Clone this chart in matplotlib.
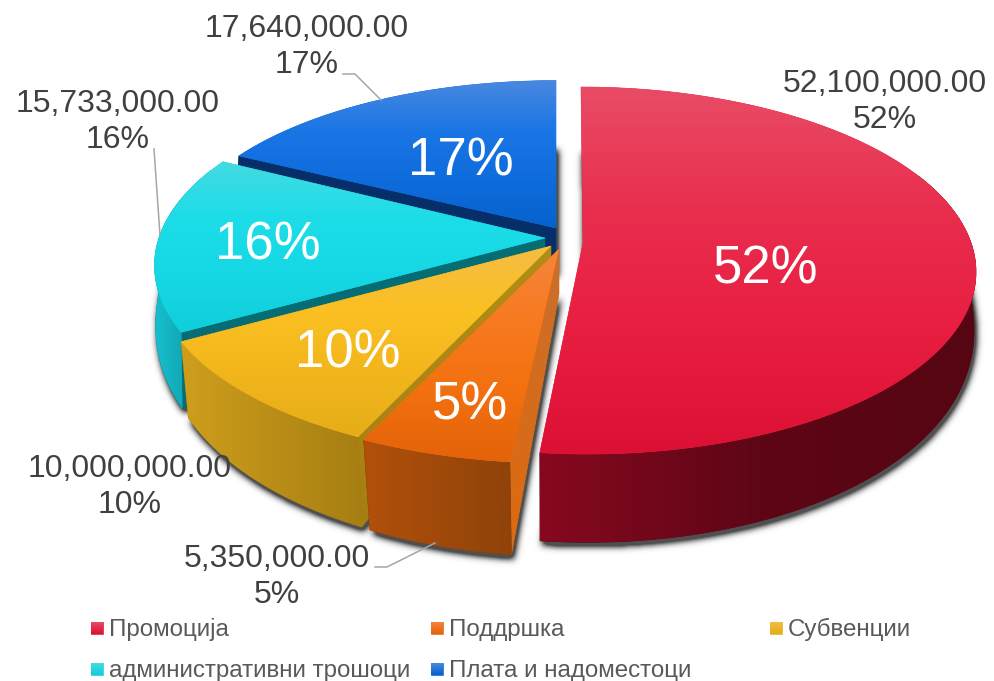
import numpy as np
import matplotlib
matplotlib.use("Agg")
import matplotlib.pyplot as plt
from matplotlib.colors import LinearSegmentedColormap, to_rgb
from matplotlib.patches import Polygon
from matplotlib.path import Path

plt.rcParams['font.family'] = ['Liberation Sans', 'DejaVu Sans']

# ---- data ----
categories = ["Промоција", "Поддршка", "Субвенции", "административни трошоци", "Плата и надоместоци"]
values = [52100000.0, 5350000.0, 10000000.0, 15733000.0, 17640000.0]

# ---- styles ----
top_cols = [
    ["#e84c66", "#e92e4e", "#e81e41", "#dc1034"],
    ["#f5853c", "#f87a20", "#f2700f", "#e4630a"],
    ["#f4bd44", "#fbc022", "#f2b61c", "#e6ad18"],
    ["#45dae2", "#1cdde8", "#16d8e4", "#10cedb"],
    ["#4a88e0", "#1b76e5", "#0f6cdc", "#0562cd"],
]
wall_cols = [
    ["#86091f", "#5e0616", "#560512"],
    ["#b2500a", "#8f430a"],
    ["#cf9e1c", "#a67e12"],
    ["#16bfce", "#0d8f9c"],
    ["#0c3a78", "#0c3a78"],
]
band_cols = [None, ["#c96f2c", "#e06a0e"], ["#b08f16", "#a67e12"], ["#066d74", "#066d74"], ["#062f6a", "#062f6a"]]
apexes = [(583, 243), (559, 249), (551, 246), (545, 238), (556, 228)]
x_scale = [0.997, 1.025, 1.012, 0.995, 0.98]
y_scale = [1.0, 1.015, 1.015, 1.0, 0.945]
depth_scale = [0.95, 1.0, 1.0, 1.0, 1.0]
skew = [1.0, 0.0, 0.0, 0.0, 0.0]
R, Rb, H, P = 388.0, 385.0, 179.4, 0.15

W, Hh = 995, 681
fig = plt.figure(figsize=(W / 100, Hh / 100), dpi=100)
ax = fig.add_axes([0, 0, 1, 1])
ax.set_axis_off()


def depth(c):
    c = np.asarray(c, dtype=float)
    return np.where(c < 0, 45 + 48 * np.abs(c) ** 0.6, 45 + 20 * c)


def top_rim(i, t):
    a = apexes[i]
    c = np.cos(t)
    s = 1 / (1 + P * c)
    return (a[0] + R * x_scale[i] * np.sin(t) * s + skew[i] * (1.25 - 3.25 * c),
            a[1] - H * y_scale[i] * c * s)


def bottom_rim(i, t):
    a = apexes[i]
    c = np.cos(t)
    s = 1 / (1 + P * c)
    return (a[0] + Rb * np.sin(t) * s + skew[i] * (1.25 - 3.25 * c),
            a[1] - H * y_scale[i] * c * s + depth_scale[i] * depth(c))


def gradient(poly, cols, vertical, z):
    poly = np.asarray(poly)
    x0, y0 = poly.min(axis=0)
    x1, y1 = poly.max(axis=0)
    cmap = LinearSegmentedColormap.from_list("g", cols)
    patch = Polygon(poly, closed=True, facecolor=cols[len(cols) // 2], edgecolor=cols[len(cols) // 2],
                    linewidth=0.4, zorder=z)
    ax.add_patch(patch)
    arr = np.linspace(0, 1, 256)
    arr = arr[:, None] if vertical else arr[None, :]
    im = ax.imshow(arr, cmap=cmap, extent=(x0, x1, y1, y0), origin="upper", aspect="auto",
                   interpolation="bilinear", zorder=z + 0.01)
    im.set_clip_path(patch)


total = sum(values)
edges = np.concatenate([[0], np.cumsum(values)]) / total * 2 * np.pi

# shadow
yy, xx = np.mgrid[0:Hh, 0:W]
pts = np.column_stack([xx.ravel() + 0.5, yy.ravel() + 0.5])
mask = np.zeros((Hh, W))
for i, a in enumerate(apexes):
    t = np.linspace(edges[i], edges[i + 1], 120)
    bx, by = bottom_rim(i, t)
    poly = np.vstack([[a[0], a[1] + 45], np.column_stack([bx, by])]) + np.array([2.0, 4.0])
    mask = np.maximum(mask, Path(poly).contains_points(pts).reshape(Hh, W).astype(float))
sig = 3.5
fy = np.fft.fftfreq(Hh)[:, None]
fx = np.fft.rfftfreq(W)[None, :]
blur = np.fft.irfft2(np.fft.rfft2(mask) * np.exp(-2 * (np.pi * sig) ** 2 * (fx ** 2 + fy ** 2)), s=mask.shape)
rgba = np.zeros((Hh, W, 4))
rgba[..., :3] = to_rgb("#303030")
rgba[..., 3] = np.clip(blur * 1.6, 0, 0.85)
ax.imshow(rgba, extent=(0, W, Hh, 0), origin="upper", aspect="auto", zorder=1)

# slices: painter's order from back to front
order = [4, 3, 2, 1, 0]
for n, i in enumerate(order):
    a = apexes[i]
    z = 2 + n
    t = np.linspace(edges[i], edges[i + 1], 160)
    tx, ty = top_rim(i, t)
    bx, by = bottom_rim(i, t)
    if band_cols[i] is not None:
        rx, ry = top_rim(i, edges[i])
        qx, qy = bottom_rim(i, edges[i])
        gradient([(a[0], a[1]), (rx, ry), (qx, qy), (a[0], a[1] + 45)], band_cols[i], True, z)
    # the outer wall only shows where the rim turns towards the viewer
    front = np.cos(t) < 0.4
    wall = np.vstack([np.column_stack([tx[front], ty[front]]), np.column_stack([bx[front], by[front]])[::-1]])
    if len(wall) > 2:
        gradient(wall, wall_cols[i], False, z + 0.2)
    topp = np.vstack([[a[0], a[1]], np.column_stack([tx, ty])])
    gradient(topp, top_cols[i], True, z + 0.4)

# inner percent labels
inner_pos = [(766, 269), (470, 405), (348, 353), (268, 246), (461, 162)]
pct = [f"{round(v / total * 100)}%" for v in values]
for p, s in zip(inner_pos, pct):
    ax.text(p[0], p[1], s, color="white", fontsize=38, ha="center", va="center", zorder=20)

# outer labels
outer_pos = [(885, 102), (277, 577), (130, 487), (118, 122), (307, 47)]
for p, v, s in zip(outer_pos, values, pct):
    ax.text(p[0], p[1], f"{v:,.2f}\n{s}", color="#404040", fontsize=23.0, ha="center", va="center",
            linespacing=1.24, zorder=20)

# leader lines
leaders = [
    [(375, 567), (387, 567), (435, 543)],
    [(154, 149), (160, 235)],
    [(343, 74), (355, 74), (381, 100)],
]
for l in leaders:
    xs, ys = zip(*l)
    ax.plot(xs, ys, color="#a6a6a6", lw=1.1, zorder=15)

# legend
leg_pos = [(91, 628), (431, 628), (770, 628), (91, 669), (431, 669)]
box = 12
for p, name, cols in zip(leg_pos, categories, top_cols):
    gradient([(p[0], p[1] - box / 2), (p[0] + box, p[1] - box / 2), (p[0] + box, p[1] + box / 2), (p[0], p[1] + box / 2)],
             [cols[0], cols[-1]], True, 15)
    ax.text(p[0] + 18, p[1] + 8, name, color="#595959", fontsize=17.4, ha="left", va="baseline", zorder=20)

ax.set_xlim(0, W)
ax.set_ylim(Hh, 0)
fig.savefig("out.png", dpi=100, facecolor="white")
